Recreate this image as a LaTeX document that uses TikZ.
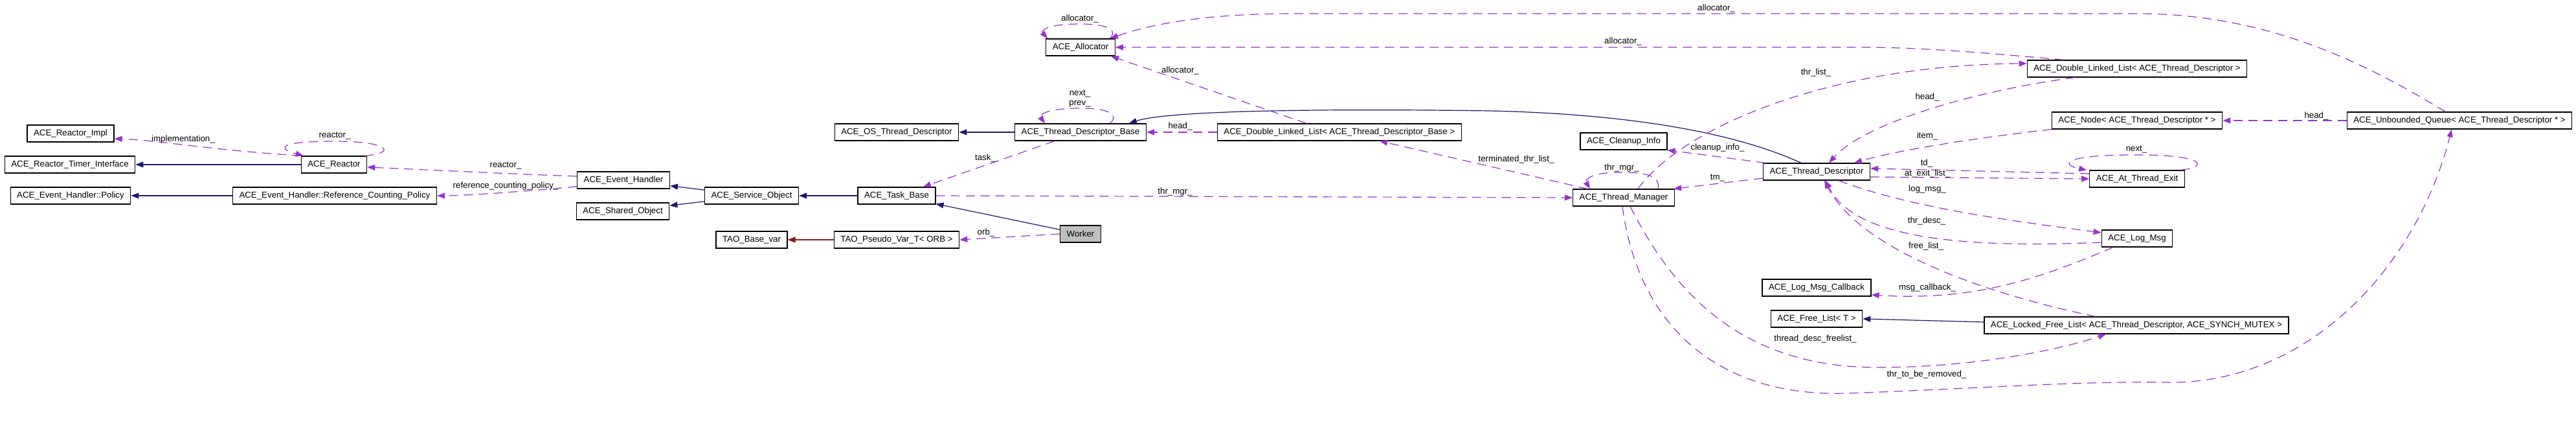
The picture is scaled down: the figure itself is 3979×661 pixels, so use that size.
\documentclass[tikz,border=0pt]{standalone}
\usepackage{fontspec}
\setmainfont{Liberation Sans}
\usetikzlibrary{arrows.meta}

\definecolor{inhblue}{RGB}{25,25,112}
\definecolor{usepurple}{RGB}{153,50,204}
\definecolor{protred}{RGB}{139,26,26}
\definecolor{workergray}{RGB}{191,191,191}

\begin{document}
\begin{tikzpicture}[>={Triangle[length=12pt,width=9pt]}, x=1pt, y=-1pt,
  font=\fontsize{13.3}{15}\selectfont,
  cls/.style={draw, line width=1.3pt, minimum height=26pt, inner xsep=10pt, inner ysep=0pt},
  inh/.style={->, line width=1.2pt, color=inhblue},
  prot/.style={->, line width=1.2pt, color=protred},
  member/.style={->, line width=1.2pt, color=usepurple, dash pattern=on 14pt off 9pt},
  lbl/.style={inner sep=0pt}]

\useasboundingbox (0,0) rectangle (3979,661);

% classes
\node[cls] (rimpl)     at (109,206)  {ACE\_Reactor\_Impl};
\node[cls] (rtimer)    at (108,254)  {ACE\_Reactor\_Timer\_Interface};
\node[cls] (policy)    at (109,302)  {ACE\_Event\_Handler::Policy};
\node[cls] (reactor)   at (516,254)  {ACE\_Reactor};
\node[cls] (refpol)    at (517,302)  {ACE\_Event\_Handler::Reference\_Counting\_Policy};
\node[cls] (evh)       at (963,278)  {ACE\_Event\_Handler};
\node[cls] (shobj)     at (962,326)  {ACE\_Shared\_Object};
\node[cls] (svcobj)    at (1161,302) {ACE\_Service\_Object};
\node[cls] (basevar)   at (1161,370) {TAO\_Base\_var};
\node[cls] (osthr)     at (1385,204) {ACE\_OS\_Thread\_Descriptor};
\node[cls] (taskbase)  at (1385,302) {ACE\_Task\_Base};
\node[cls] (pseudovar) at (1385,370) {TAO\_Pseudo\_Var\_T< ORB >};
\node[cls, fill=workergray] (worker) at (1669,361) {Worker};
\node[cls] (alloc)     at (1669,73)  {ACE\_Allocator};
\node[cls] (tdbase)    at (1669,204) {ACE\_Thread\_Descriptor\_Base};
\node[cls] (dlltdb)    at (2069,204) {ACE\_Double\_Linked\_List< ACE\_Thread\_Descriptor\_Base >};
\node[cls] (cleanup)   at (2508,218) {ACE\_Cleanup\_Info};
\node[cls] (thrmgr)    at (2508,305) {ACE\_Thread\_Manager};
\node[cls] (thrdesc)   at (2806,265) {ACE\_Thread\_Descriptor};
\node[cls] (lmcb)      at (2806,444) {ACE\_Log\_Msg\_Callback};
\node[cls] (freelist)  at (2806,492) {ACE\_Free\_List< T >};
\node[cls] (dlltd)     at (3301,106) {ACE\_Double\_Linked\_List< ACE\_Thread\_Descriptor >};
\node[cls] (node)      at (3301,186) {ACE\_Node< ACE\_Thread\_Descriptor * >};
\node[cls] (atexit)    at (3301,276) {ACE\_At\_Thread\_Exit};
\node[cls] (logmsg)    at (3301,368) {ACE\_Log\_Msg};
\node[cls] (lockfree)  at (3300,502) {ACE\_Locked\_Free\_List< ACE\_Thread\_Descriptor, ACE\_SYNCH\_MUTEX >};
\node[cls] (queue)     at (3799,186) {ACE\_Unbounded\_Queue< ACE\_Thread\_Descriptor * >};

% inheritance
\draw[inh] (reactor) -- (rtimer);
\draw[inh] (refpol) -- (policy);
\draw[inh] (svcobj) -- (evh);
\draw[inh] (svcobj) -- (shobj);
\draw[inh] (taskbase) -- (svcobj);
\draw[inh] (worker) -- (taskbase);
\draw[inh] (tdbase) -- (osthr);
\draw[inh] ([xshift=-24pt]thrdesc.north) .. controls (2680,205) and (2520,176) .. (2300,171)
   .. controls (2000,167) and (1800,172) .. ([xshift=-27pt]tdbase.north east);
\draw[inh] ([yshift=5pt]lockfree.west) -- (freelist.east);
\draw[prot] (pseudovar) -- (basevar);

% members, left part
\draw[member] (reactor.north west) .. controls (330,232) and (240,216) .. ([yshift=-8pt]rimpl.east);
\node[lbl] (l-impl) at (283,215) {implementation\_};
\draw[member] ([xshift=-4pt]reactor.north east) .. controls (615,236) and (600,218) .. (517,218)
   .. controls (425,218) and (430,230) .. ([xshift=4pt]reactor.north west);
\node[lbl] (l-rself) at (517,210) {reactor\_};
\draw[member] ([yshift=6pt]evh.west) .. controls (780,268) and (660,262) .. ([yshift=-4pt]reactor.east);
\node[lbl] (l-reactor) at (781,256) {reactor\_};
\draw[member] ([yshift=-10pt]evh.west) .. controls (800,296) and (720,302) .. (refpol.east);
\node[lbl] (l-refpol) at (781,287) {reference\_counting\_policy\_};
\draw[member] ([xshift=-40pt]tdbase.south) -- ([xshift=41pt]taskbase.north);
\node[lbl] (l-task) at (1522,244) {task\_};
\draw[member] (worker.west) -- (pseudovar.east);
\node[lbl] (l-orb) at (1523,359) {orb\_};
\draw[member] (taskbase.east) -- (thrmgr.west);
\node[lbl] (l-tmgr) at (1815,296) {thr\_mgr\_};

% members, middle part
\draw[member] ([xshift=-57pt]tdbase.north east) .. controls (1728,180) and (1720,167) .. (1668,167)
   .. controls (1615,167) and (1605,178) .. ([xshift=47pt]tdbase.north west);
\node[lbl] (l-next) at (1668,145) {next\_};
\node[lbl] (l-prev) at (1668,160) {prev\_};
\draw[member] (dlltdb.west) -- (tdbase.east);
\node[lbl] (l-head1) at (1823,195) {head\_};
\draw[member] ([xshift=-51pt]dlltdb.north) -- ([xshift=-7pt]alloc.south east);
\node[lbl] (l-alloc1) at (1823,109) {allocator\_};
\draw[member] ([xshift=-9pt]alloc.north east) .. controls (1725,50) and (1720,37) .. (1668,37)
   .. controls (1615,37) and (1608,48) .. ([xshift=3pt]alloc.north west);
\node[lbl] (l-aself) at (1668,29) {allocator\_};
\draw[member] ([xshift=57pt]dlltd.north west) .. controls (3050,80) and (2960,73) .. (2874,73) -- (alloc.east);
\node[lbl] (l-alloc2) at (2507,64) {allocator\_};
\draw[member] ([xshift=-22pt]queue.north) .. controls (3650,95) and (3500,21) .. (3300,21) -- (2000,21)
   .. controls (1850,21) and (1770,40) .. ([xshift=-8pt]alloc.north east);
\node[lbl] (l-alloc3) at (2651,13) {allocator\_};
\draw[member] ([xshift=-56pt]thrmgr.north) -- ([xshift=62pt]dlltdb.south);
\node[lbl] (l-term) at (2342,246) {terminated\_thr\_list\_};
\draw[member] ([xshift=53pt]thrmgr.north) .. controls (2565,270) and (2540,266) .. (2502,266)
   .. controls (2455,266) and (2448,278) .. ([xshift=-52pt]thrmgr.north);
\node[lbl] (l-mself) at (2505,259) {thr\_mgr\_};
\draw[member] ([xshift=22pt]thrmgr.north) .. controls (2600,195) and (2830,100) .. ([yshift=8pt]dlltd.west);
\node[lbl] (l-thrlist) at (2805,112) {thr\_list\_};
\draw[member] ([xshift=4pt]thrdesc.north west) -- (cleanup.south east);
\node[lbl] (l-cleanup) at (2653,228) {cleanup\_info\_};
\draw[member] ([yshift=-10pt]thrdesc.west) -- ([xshift=-2pt]thrmgr.north east);
\node[lbl] (l-tm) at (2653,275) {tm\_};

% members, right part
\draw[member] ([xshift=74pt]dlltd.south west) .. controls (3050,140) and (2880,190) .. ([xshift=19pt]thrdesc.north);
\node[lbl] (l-head2) at (2977,150) {head\_};
\draw[member] (node.south west) .. controls (3050,213) and (2930,232) .. ([xshift=58pt]thrdesc.north);
\node[lbl] (l-item) at (2977,210) {item\_};
\draw[member] ([yshift=8pt]atexit.west) -- ([yshift=5pt]thrdesc.east);
\node[lbl] (l-td) at (2976,252) {td\_};
\draw[member] ([yshift=-8pt]thrdesc.east) -- (atexit.west);
\node[lbl] (l-atexit) at (2977,268) {at\_exit\_list\_};
\draw[member] ([xshift=-6pt]atexit.north east) .. controls (3410,258) and (3410,239) .. (3300,239)
   .. controls (3180,239) and (3185,255) .. ([xshift=-4pt]atexit.north west);
\node[lbl] (l-next2) at (3300,231) {next\_};
\draw[member] ([xshift=34pt]thrdesc.south) .. controls (2950,320) and (3100,340) .. ([yshift=9pt]logmsg.west);
\node[lbl] (l-logmsg) at (2977,292) {log\_msg\_};
\draw[member] ([yshift=-6pt]logmsg.west) .. controls (3000,385) and (2860,360) .. ([xshift=14pt]thrdesc.south);
\node[lbl] (l-thrdesc) at (2976,341) {thr\_desc\_};
\draw[member] ([xshift=-63pt]lockfree.north) .. controls (3050,450) and (2870,380) .. ([xshift=12pt]thrdesc.south);
\node[lbl] (l-free) at (2975,380) {free\_list\_};
\draw[member] ([xshift=-37pt]logmsg.south) .. controls (3150,430) and (3050,465) .. ([yshift=-11pt]lmcb.east);
\node[lbl] (l-cb) at (2977,444) {msg\_callback\_};
\draw[member] ([xshift=10pt]thrmgr.south) .. controls (2580,440) and (2680,567) .. (2900,567)
   .. controls (3050,567) and (3180,540) .. ([xshift=-47pt]lockfree.south);
\node[lbl] (l-tdfree) at (2804,523) {thread\_desc\_freelist\_};
\draw[member] ([xshift=-2pt]thrmgr.south) .. controls (2530,500) and (2650,612) .. (2850,607)
   .. controls (3050,600) and (3200,588) .. (3350,590)
   .. controls (3560,592) and (3730,420) .. ([xshift=-12pt]queue.south);
\node[lbl] (l-remove) at (2976,578) {thr\_to\_be\_removed\_};
\draw[member] (queue.west) -- (node.east);
\node[lbl] (l-head3) at (3578,179) {head\_};

\end{tikzpicture}
\end{document}
